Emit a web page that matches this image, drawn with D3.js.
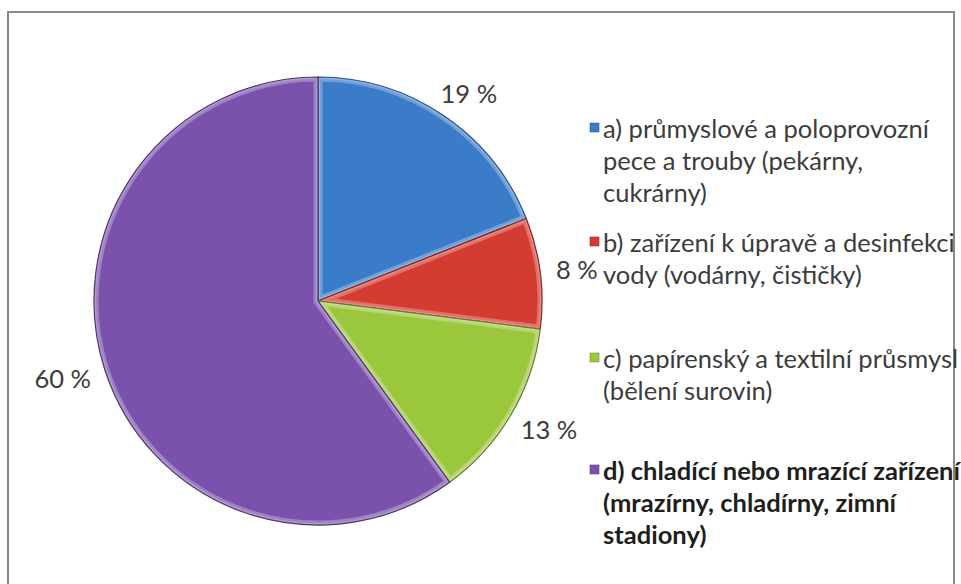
<!DOCTYPE html>
<html lang="cs">
<head>
<meta charset="utf-8">
<script src="https://cdn.jsdelivr.net/npm/d3@7"></script>
<style>
  html, body { margin: 0; padding: 0; background: #fff; }
  svg { display: block; }
  text { font-family: Lato, "Open Sans", sans-serif; }
</style>
</head>
<body>
<svg id="chart" width="961" height="584"></svg>
<script>
// Share of ammonia use by application
const categories = ["a", "b", "c", "d"];
const shares = [19, 8, 13, 60];
const valueLabels = ["19 %", "8 %", "13 %", "60 %"];
const legendLines = [
  ["a) průmyslové a poloprovozní", "pece a trouby (pekárny,", "cukrárny)"],
  ["b) zařízení k úpravě a desinfekci", "vody (vodárny, čističky)"],
  ["c) papírenský a textilní průsmysl", "(bělení surovin)"],
  ["d) chladící nebo mrazící zařízení", "(mrazírny, chladírny, zimní", "stadiony)"]
];
const sliceColors = ["#3b7cc9", "#d43b31", "#9bc73d", "#7a52ac"];

const svg = d3.select("#chart");
const cx = 318, cy = 301, R = 224;

// chart frame
svg.append("rect")
  .attr("x", 8).attr("y", 12)
  .attr("width", 946).attr("height", 620)
  .attr("fill", "#fff")
  .attr("stroke", "#8a8a8a")
  .attr("stroke-width", 2);

const defs = svg.append("defs");
const color = d3.scaleOrdinal().domain(categories).range(sliceColors);

const pie = d3.pie().sort(null).value(d => d.v);
const arcs = pie(categories.map((c, i) => ({ c, v: shares[i], label: valueLabels[i] })));
const arc = d3.arc().innerRadius(0).outerRadius(R);

// each slice clips its own highlight stroke so the light rim stays inside it
arcs.forEach((d, i) => {
  defs.append("clipPath").attr("id", "clip-" + i)
    .append("path").attr("d", arc(d));
});

const g = svg.append("g").attr("transform", `translate(${cx},${cy})`);
const slices = g.selectAll("g.slice").data(arcs).join("g").attr("class", "slice");

slices.append("path")
  .attr("d", arc)
  .attr("fill", d => color(d.data.c));

// soft bevel: a light inner rim, then a darker thin outline
slices.append("path")
  .attr("d", arc)
  .attr("clip-path", (d, i) => `url(#clip-${i})`)
  .attr("fill", "none")
  .attr("stroke", "#ffffff")
  .attr("stroke-opacity", 0.28)
  .attr("stroke-width", 9);
slices.append("path")
  .attr("d", arc)
  .attr("clip-path", (d, i) => `url(#clip-${i})`)
  .attr("fill", "none")
  .attr("stroke", "#ffffff")
  .attr("stroke-opacity", 0.2)
  .attr("stroke-width", 4);
slices.append("path")
  .attr("d", arc)
  .attr("fill", "none")
  .attr("stroke", d => d3.color(color(d.data.c)).darker(1.3))
  .attr("stroke-width", 1.2);

// horizontal compression used by all text so lines fit the legend width
const FS = 25;
const probe = svg.append("text").attr("font-size", FS).text(legendLines[1][0]);
const sx = 352 / probe.node().getComputedTextLength();
probe.remove();

// value labels: placed just outside each slice along its mid-angle
const labelR = R + 16;
g.selectAll("text.val")
  .data(arcs)
  .join("text")
  .attr("class", "val")
  .attr("font-size", FS)
  .attr("fill", "#3c3c3c")
  .attr("text-anchor", "middle")
  .attr("dominant-baseline", "central")
  .each(function (d) {
    const a = (d.startAngle + d.endAngle) / 2;
    const el = d3.select(this).text(d.data.label);
    const w = this.getComputedTextLength() * sx;
    const h = 22;
    const x = Math.sin(a) * labelR + Math.sin(a) * w / 2;
    const y = -Math.cos(a) * labelR - Math.cos(a) * h / 2;
    el.attr("transform", `translate(${x},${y}) scale(${sx},1)`);
  });

// legend
const legendX = 590, textX = 603, lineH = 32;
const entryTop = [128, 242, 358, 470];
const lg = svg.append("g");
legendLines.forEach((lines, i) => {
  const y0 = entryTop[i];
  lg.append("rect")
    .attr("x", legendX).attr("y", y0 - 5)
    .attr("width", 9).attr("height", 9)
    .attr("fill", sliceColors[i])
    .attr("stroke", d3.color(sliceColors[i]).darker(0.8))
    .attr("stroke-width", 0.6);
  lines.forEach((t, j) => {
    lg.append("text")
      .attr("transform", `translate(${textX},${y0 + j * lineH}) scale(${sx},1)`)
      .attr("dominant-baseline", "central")
      .attr("font-size", FS)
      .attr("font-weight", i === 3 ? "bold" : "normal")
      .attr("fill", i === 3 ? "#1e1e1e" : "#3c3c3c")
      .text(t);
  });
});
</script>
</body>
</html>
